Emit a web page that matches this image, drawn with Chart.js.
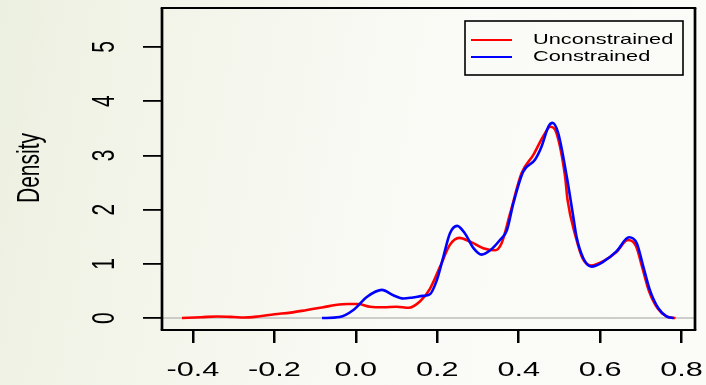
<!DOCTYPE html>
<html>
<head>
<meta charset="utf-8">
<script src="https://cdn.jsdelivr.net/npm/chart.js@4"></script>
<style>
  html, body { margin: 0; padding: 0; }
  body {
    width: 706px; height: 385px; overflow: hidden;
    background: linear-gradient(100deg, #ecf0e0 0%, #f4f6ec 30%, #fafbf6 60%, #fbfbf7 100%);
  }
  canvas { display: block; }
</style>
</head>
<body>
<canvas id="chart" width="706" height="385"></canvas>
<script>
// density curves
const unconstrainedX = [-0.427, -0.38, -0.34, -0.30, -0.276, -0.24, -0.20, -0.16, -0.12, -0.08, -0.05, -0.02, 0.005,
  0.035, 0.068, 0.10, 0.13, 0.158, 0.182, 0.207, 0.231, 0.254, 0.281, 0.313, 0.342, 0.358, 0.379, 0.407, 0.436,
  0.460, 0.478, 0.493, 0.514, 0.520, 0.540, 0.557, 0.578, 0.608, 0.640, 0.668, 0.688, 0.704, 0.720, 0.742, 0.763, 0.785]
const unconstrainedY = [0.00, 0.015, 0.03, 0.02, 0.01, 0.03, 0.07, 0.10, 0.15, 0.20, 0.24, 0.26, 0.26,
  0.21, 0.20, 0.21, 0.19, 0.31, 0.54, 0.95, 1.35, 1.48, 1.41, 1.29, 1.25, 1.38, 1.93, 2.67, 3.01,
  3.35, 3.53, 3.41, 2.61, 2.18, 1.50, 1.10, 0.97, 1.05, 1.22, 1.44, 1.33, 0.92, 0.50, 0.17, 0.03, 0.00]

const constrainedX = [-0.083, -0.04, -0.006, 0.027, 0.064, 0.092, 0.117, 0.14, 0.165, 0.182, 0.199, 0.215, 0.231,
  0.249, 0.268, 0.289, 0.309, 0.330, 0.354, 0.371, 0.387, 0.411, 0.440, 0.456, 0.473, 0.483, 0.497, 0.518,
  0.534, 0.542, 0.559, 0.579, 0.608, 0.640, 0.671, 0.690, 0.706, 0.722, 0.743, 0.763, 0.781]
const constrainedY = [0.00, 0.02, 0.15, 0.39, 0.52, 0.42, 0.36, 0.38, 0.41, 0.44, 0.70, 1.13, 1.56,
  1.70, 1.56, 1.29, 1.17, 1.25, 1.44, 1.62, 2.12, 2.70, 2.92, 3.16, 3.53, 3.60, 3.41, 2.61,
  1.87, 1.50, 1.10, 0.95, 1.04, 1.23, 1.49, 1.38, 0.95, 0.52, 0.18, 0.03, 0.00]

const xTicks = [-0.4, -0.2, 0.0, 0.2, 0.4, 0.6, 0.8]
const yTicks = [0, 1, 2, 3, 4, 5]
const yTitle = 'Density'

const FONT = '"Liberation Sans", Arial, sans-serif'
const STRETCH = 1.46 // the picture is wider than it is tall

const toPoints = (xs, ys) => xs.map((x, i) => ({ x, y: ys[i] }))

const rPlot = {
  id: 'rPlot',
  beforeDatasetsDraw(chart) {
    const { ctx, chartArea: a, scales } = chart
    const y0 = scales.y.getPixelForValue(0)
    ctx.save()
    ctx.strokeStyle = '#bebebe'
    ctx.lineWidth = 1.5
    ctx.beginPath()
    ctx.moveTo(a.left, y0)
    ctx.lineTo(a.right, y0)
    ctx.stroke()
    ctx.restore()
  },
  afterDraw(chart) {
    const { ctx, chartArea: a, scales } = chart
    ctx.save()
    ctx.strokeStyle = '#000'
    // box
    ctx.lineWidth = 2
    ctx.beginPath()
    ctx.moveTo(a.left - 1.3, a.top); ctx.lineTo(a.right + 1.3, a.top)
    ctx.moveTo(a.left - 1.3, a.bottom); ctx.lineTo(a.right + 1.3, a.bottom)
    ctx.stroke()
    ctx.lineWidth = 2.7
    ctx.beginPath()
    ctx.moveTo(a.left, a.top); ctx.lineTo(a.left, a.bottom)
    ctx.moveTo(a.right, a.top); ctx.lineTo(a.right, a.bottom)
    ctx.stroke()

    ctx.fillStyle = '#000'
    // x tick labels
    ctx.font = '21px ' + FONT
    ctx.textAlign = 'center'
    ctx.textBaseline = 'middle'
    xTicks.forEach(v => {
      ctx.save()
      ctx.translate(scales.x.getPixelForValue(v), 370)
      ctx.scale(STRETCH, 1)
      ctx.fillText(v.toFixed(1), 0, 0)
      ctx.restore()
    })
    // y tick labels, rotated like R's default
    yTicks.forEach(v => {
      ctx.save()
      ctx.translate(106, scales.y.getPixelForValue(v))
      ctx.scale(STRETCH, 1)
      ctx.rotate(-Math.PI / 2)
      ctx.fillText(String(v), 0, 0)
      ctx.restore()
    })
    // axis title
    ctx.save()
    ctx.translate(31, 168)
    ctx.scale(STRETCH, 1)
    ctx.rotate(-Math.PI / 2)
    ctx.font = '21px ' + FONT
    ctx.fillText(yTitle, 0, 0)
    ctx.restore()

    // legend
    const lx = 465, ly = 21, lw = 218, lh = 54
    ctx.lineWidth = 1.6
    ctx.strokeRect(lx, ly, lw, lh)
    ctx.font = '15px ' + FONT
    ctx.textAlign = 'left'
    chart.data.datasets.forEach((ds, i) => {
      const rowY = 40 + i * 17
      ctx.strokeStyle = ds.borderColor
      ctx.lineWidth = 2
      ctx.beginPath()
      ctx.moveTo(471, rowY); ctx.lineTo(512, rowY)
      ctx.stroke()
      ctx.save()
      ctx.translate(533, rowY)
      ctx.scale(1.45, 1)
      ctx.fillText(ds.label, 0, 0)
      ctx.restore()
    })
    ctx.restore()
  }
}

const tickGrid = (len, width) => ({
  display: true,
  drawOnChartArea: false,
  drawTicks: true,
  tickLength: len,
  color: '#000',
  lineWidth: width
})

new Chart(document.getElementById('chart'), {
  type: 'line',
  data: {
    datasets: [{
      label: 'Unconstrained',
      data: toPoints(unconstrainedX, unconstrainedY),
      borderColor: '#ff0000',
      borderWidth: 2.6,
      pointRadius: 0,
      cubicInterpolationMode: 'monotone',
      fill: false,
      order: 2
    }, {
      label: 'Constrained',
      data: toPoints(constrainedX, constrainedY),
      borderColor: '#0000ff',
      borderWidth: 2.6,
      pointRadius: 0,
      cubicInterpolationMode: 'monotone',
      fill: false,
      order: 1
    }]
  },
  options: {
    responsive: false,
    animation: false,
    devicePixelRatio: 1,
    layout: { padding: { left: 143, right: 11, top: 8, bottom: 42 } },
    plugins: { legend: { display: false }, tooltip: { enabled: false } },
    scales: {
      x: {
        type: 'linear',
        min: -0.476,
        max: 0.833,
        afterBuildTicks: s => { s.ticks = xTicks.map(value => ({ value })) },
        ticks: { display: false },
        grid: tickGrid(13, 2.5),
        border: { display: false }
      },
      y: {
        type: 'linear',
        min: -0.22,
        max: 5.72,
        afterBuildTicks: s => { s.ticks = yTicks.map(value => ({ value })) },
        ticks: { display: false },
        grid: tickGrid(19, 1.8),
        border: { display: false }
      }
    }
  },
  plugins: [rPlot]
})
</script>
</body>
</html>
